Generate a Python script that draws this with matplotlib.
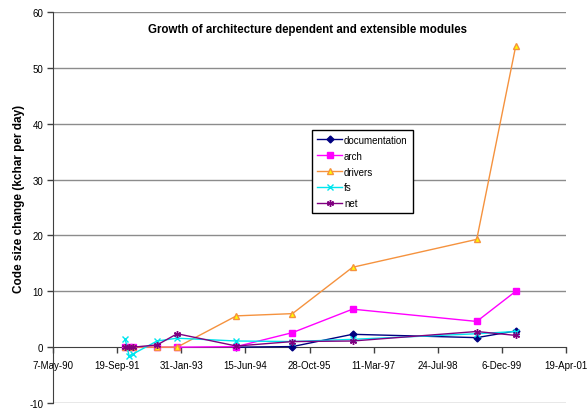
import matplotlib
matplotlib.use("Agg")
import matplotlib.pyplot as plt
import numpy as np
import datetime as dt

plt.rcParams['font.family'] = ['Liberation Sans', 'DejaVu Sans']

# Release dates (sample points)
dates = ['1991-11-20', '1991-12-22', '1992-01-22', '1992-07-27', '1992-12-30',
         '1994-04-06', '1995-06-17', '1996-09-28', '1999-05-24', '2000-03-23']

# Code size change, kchar per day (None = no data)
documentation = [None, None, None, None, None, 0.0, 0.1, 2.3, 1.7, 2.9]
arch = [0.0, 0.0, 0.0, 0.0, 0.0, 0.1, 2.6, 6.8, 4.6, 10.0]
drivers = [0.0, 0.0, 0.0, 0.0, 0.0, 5.6, 6.0, 14.3, 19.3, 53.9]
fs = [1.5, -1.6, -1.2, 1.1, 1.6, 1.1, 1.0, 1.4, 2.4, 2.8]
net = [0.0, 0.0, 0.0, 0.4, 2.4, 0.2, 1.0, 1.1, 2.8, 2.1]

series_names = ['documentation', 'arch', 'drivers', 'fs', 'net']

x_tick_labels = ['7-May-90', '19-Sep-91', '31-Jan-93', '15-Jun-94', '28-Oct-95',
                 '11-Mar-97', '24-Jul-98', '6-Dec-99', '19-Apr-01']
y_ticks = [-10, 0, 10, 20, 30, 40, 50, 60]

title = 'Growth of architecture dependent and extensible modules'
ylabel = 'Code size change (kchar per day)'

x = np.array([dt.datetime.strptime(d, '%Y-%m-%d') for d in dates])
tick_dates = [dt.datetime.strptime(t, '%d-%b-%y') for t in x_tick_labels]


def to_arr(vals):
    return np.array([np.nan if v is None else v for v in vals], dtype=float)


fig = plt.figure(figsize=(5.87, 4.10), dpi=100)
ax = fig.add_axes([53 / 587, 1 - 404 / 410, (566 - 53) / 587, (404 - 13) / 410])

grid_c = '#8c8c8c'
for yv in y_ticks:
    if yv != 0:
        ax.axhline(yv, color=grid_c, lw=1.0, zorder=0)

styles = {
    'documentation': dict(color='#000080', marker='D', ms=3.5, mfc='#000080', mec='#000080'),
    'arch': dict(color='#ff00ff', marker='s', ms=5, mfc='#ff00ff', mec='#ff00ff'),
    'drivers': dict(color='#f5923e', marker='^', ms=5, mfc='#ffff00', mec='#f5923e'),
    'fs': dict(color='#00e5ee', marker='x', ms=4.5, mec='#00e5ee', mew=1.0),
    'net': dict(color='#800080', marker=(6, 2, 0), ms=5, mec='#800080', mew=1.0),
}
data = {'documentation': documentation, 'arch': arch, 'drivers': drivers, 'fs': fs, 'net': net}

handles = []
for name in series_names:
    y = to_arr(data[name])
    mask = ~np.isnan(y)
    h, = ax.plot(x[mask], y[mask], lw=1.0, label=name, zorder=3, **styles[name])
    handles.append(h)

for s in ['top', 'right']:
    ax.spines[s].set_visible(False)
ax.spines['bottom'].set_position(('data', 0))
ax.spines['bottom'].set_color('#404040')
ax.spines['left'].set_color('#404040')

ax.set_xlim(tick_dates[0], tick_dates[-1])
ax.set_ylim(-10, 60)
ax.set_xticks(tick_dates)
ax.set_xticklabels(x_tick_labels)
ax.set_yticks(y_ticks)
ax.set_yticklabels([str(v) for v in y_ticks])
ax.tick_params(axis='both', direction='out', length=4, width=1, color='#404040',
               labelsize=7, pad=3)
ax.tick_params(axis='x', pad=5)

fig.text(307 / 587, 1 - 30 / 410, title, ha='center', va='center',
         fontsize=8.3, fontweight='bold')
fig.text(19 / 587, 1 - 199 / 410, ylabel, rotation=90, ha='center', va='center',
         fontsize=8.5, fontweight='bold')

leg = ax.legend(handles=handles, loc='upper left', bbox_to_anchor=((312 - 53) / 513, 1 - (131 - 13) / 391),
                fontsize=7, frameon=True, fancybox=False, framealpha=1, edgecolor='black',
                borderpad=0.5, labelspacing=0.6, handlelength=2.6, handletextpad=0.2,
                borderaxespad=0)
leg.get_frame().set_linewidth(1.0)

fig.savefig('out.png', dpi=100)
